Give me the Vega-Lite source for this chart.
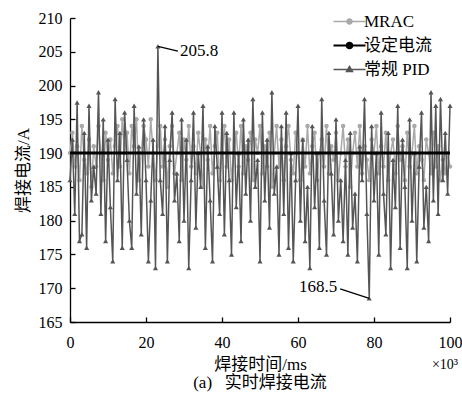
{
  "$schema": "https://vega.github.io/schema/vega-lite/v6.json",
  "width": 380,
  "height": 304,
  "autosize": "none",
  "padding": {"left": 70, "top": 18, "right": 12, "bottom": 86},
  "background": "white",
  "config": {
    "view": {"stroke": null},
    "axis": {
      "grid": false,
      "domainColor": "#000",
      "domainWidth": 1.3,
      "tickColor": "#000",
      "tickWidth": 1.3,
      "tickSize": -5,
      "labelFont": "Liberation Serif, DejaVu Serif, serif",
      "labelFontSize": 16,
      "labelColor": "#000",
      "titleFont": "Liberation Serif, Noto Sans CJK SC, serif",
      "titleFontSize": 17,
      "titleFontWeight": "normal",
      "titleColor": "#000"
    }
  },
  "title": {
    "text": "(a)\u00a0\u00a0\u00a0实时焊接电流",
    "orient": "bottom",
    "font": "Liberation Serif, Noto Sans CJK SC, serif",
    "fontSize": 17,
    "fontWeight": "normal",
    "color": "#000",
    "offset": 3
  },
  "datasets": {
    "current": [
      {"t": 0, "MRAC": 190, "常规 PID": 186},
      {"t": 0.625, "MRAC": 193, "常规 PID": 192},
      {"t": 1.25, "MRAC": 188, "常规 PID": 181},
      {"t": 1.875, "MRAC": 191, "常规 PID": 197.5},
      {"t": 2.5, "MRAC": 186, "常规 PID": 177},
      {"t": 3.125, "MRAC": 194, "常规 PID": 178},
      {"t": 3.75, "MRAC": 189, "常规 PID": 193},
      {"t": 4.375, "MRAC": 187, "常规 PID": 176},
      {"t": 5, "MRAC": 192, "常规 PID": 197},
      {"t": 5.625, "MRAC": 185, "常规 PID": 183},
      {"t": 6.25, "MRAC": 191, "常规 PID": 188},
      {"t": 6.875, "MRAC": 188, "常规 PID": 184},
      {"t": 7.5, "MRAC": 194, "常规 PID": 199},
      {"t": 8.125, "MRAC": 190, "常规 PID": 181},
      {"t": 8.75, "MRAC": 186, "常规 PID": 195},
      {"t": 9.375, "MRAC": 193, "常规 PID": 177},
      {"t": 10, "MRAC": 189, "常规 PID": 192},
      {"t": 10.625, "MRAC": 192, "常规 PID": 182},
      {"t": 11.25, "MRAC": 187, "常规 PID": 174},
      {"t": 11.875, "MRAC": 191, "常规 PID": 198},
      {"t": 12.5, "MRAC": 194, "常规 PID": 186},
      {"t": 13.125, "MRAC": 188, "常规 PID": 193},
      {"t": 13.75, "MRAC": 195, "常规 PID": 176},
      {"t": 14.375, "MRAC": 190, "常规 PID": 196},
      {"t": 15, "MRAC": 193, "常规 PID": 189},
      {"t": 15.625, "MRAC": 187, "常规 PID": 180},
      {"t": 16.25, "MRAC": 194, "常规 PID": 176},
      {"t": 16.875, "MRAC": 191, "常规 PID": 197},
      {"t": 17.5, "MRAC": 195, "常规 PID": 184},
      {"t": 18.125, "MRAC": 186, "常规 PID": 191},
      {"t": 18.75, "MRAC": 190, "常规 PID": 178},
      {"t": 19.375, "MRAC": 194, "常规 PID": 195},
      {"t": 20, "MRAC": 192, "常规 PID": 186},
      {"t": 20.625, "MRAC": 188, "常规 PID": 174},
      {"t": 21.25, "MRAC": 195, "常规 PID": 183},
      {"t": 21.875, "MRAC": 190, "常规 PID": 192},
      {"t": 22.5, "MRAC": 186, "常规 PID": 173},
      {"t": 23.125, "MRAC": 191, "常规 PID": 205.8},
      {"t": 23.75, "MRAC": 194, "常规 PID": 186},
      {"t": 24.375, "MRAC": 188, "常规 PID": 181},
      {"t": 25, "MRAC": 192, "常规 PID": 194},
      {"t": 25.625, "MRAC": 185, "常规 PID": 174},
      {"t": 26.25, "MRAC": 191, "常规 PID": 189},
      {"t": 26.875, "MRAC": 194, "常规 PID": 196},
      {"t": 27.5, "MRAC": 187, "常规 PID": 183},
      {"t": 28.125, "MRAC": 190, "常规 PID": 187},
      {"t": 28.75, "MRAC": 193, "常规 PID": 177},
      {"t": 29.375, "MRAC": 186, "常规 PID": 195},
      {"t": 30, "MRAC": 192, "常规 PID": 180},
      {"t": 30.625, "MRAC": 189, "常规 PID": 192},
      {"t": 31.25, "MRAC": 194, "常规 PID": 173},
      {"t": 31.875, "MRAC": 188, "常规 PID": 186},
      {"t": 32.5, "MRAC": 191, "常规 PID": 196},
      {"t": 33.125, "MRAC": 187, "常规 PID": 179},
      {"t": 33.75, "MRAC": 193, "常规 PID": 190},
      {"t": 34.375, "MRAC": 190, "常规 PID": 185},
      {"t": 35, "MRAC": 185, "常规 PID": 197},
      {"t": 35.625, "MRAC": 192, "常规 PID": 176},
      {"t": 36.25, "MRAC": 189, "常规 PID": 191},
      {"t": 36.875, "MRAC": 194, "常规 PID": 183},
      {"t": 37.5, "MRAC": 187, "常规 PID": 174},
      {"t": 38.125, "MRAC": 191, "常规 PID": 194},
      {"t": 38.75, "MRAC": 193, "常规 PID": 188},
      {"t": 39.375, "MRAC": 186, "常规 PID": 181},
      {"t": 40, "MRAC": 190, "常规 PID": 196},
      {"t": 40.625, "MRAC": 194, "常规 PID": 178},
      {"t": 41.25, "MRAC": 188, "常规 PID": 193},
      {"t": 41.875, "MRAC": 192, "常规 PID": 186},
      {"t": 42.5, "MRAC": 186, "常规 PID": 175},
      {"t": 43.125, "MRAC": 190, "常规 PID": 196},
      {"t": 43.75, "MRAC": 193, "常规 PID": 182},
      {"t": 44.375, "MRAC": 188, "常规 PID": 190},
      {"t": 45, "MRAC": 194, "常规 PID": 177},
      {"t": 45.625, "MRAC": 187, "常规 PID": 195},
      {"t": 46.25, "MRAC": 191, "常规 PID": 184},
      {"t": 46.875, "MRAC": 189, "常规 PID": 192},
      {"t": 47.5, "MRAC": 193, "常规 PID": 180},
      {"t": 48.125, "MRAC": 186, "常规 PID": 198},
      {"t": 48.75, "MRAC": 192, "常规 PID": 185},
      {"t": 49.375, "MRAC": 190, "常规 PID": 189},
      {"t": 50, "MRAC": 194, "常规 PID": 174},
      {"t": 50.625, "MRAC": 187, "常规 PID": 196},
      {"t": 51.25, "MRAC": 191, "常规 PID": 183},
      {"t": 51.875, "MRAC": 188, "常规 PID": 192},
      {"t": 52.5, "MRAC": 193, "常规 PID": 179},
      {"t": 53.125, "MRAC": 185, "常规 PID": 199},
      {"t": 53.75, "MRAC": 190, "常规 PID": 184},
      {"t": 54.375, "MRAC": 194, "常规 PID": 188},
      {"t": 55, "MRAC": 188, "常规 PID": 175},
      {"t": 55.625, "MRAC": 192, "常规 PID": 194},
      {"t": 56.25, "MRAC": 186, "常规 PID": 181},
      {"t": 56.875, "MRAC": 191, "常规 PID": 196},
      {"t": 57.5, "MRAC": 194, "常规 PID": 176},
      {"t": 58.125, "MRAC": 189, "常规 PID": 190},
      {"t": 58.75, "MRAC": 187, "常规 PID": 174},
      {"t": 59.375, "MRAC": 193, "常规 PID": 186},
      {"t": 60, "MRAC": 190, "常规 PID": 197},
      {"t": 60.625, "MRAC": 186, "常规 PID": 180},
      {"t": 61.25, "MRAC": 192, "常规 PID": 192},
      {"t": 61.875, "MRAC": 188, "常规 PID": 177},
      {"t": 62.5, "MRAC": 194, "常规 PID": 185},
      {"t": 63.125, "MRAC": 187, "常规 PID": 173},
      {"t": 63.75, "MRAC": 191, "常规 PID": 194},
      {"t": 64.375, "MRAC": 193, "常规 PID": 182},
      {"t": 65, "MRAC": 186, "常规 PID": 190},
      {"t": 65.625, "MRAC": 190, "常规 PID": 176},
      {"t": 66.25, "MRAC": 192, "常规 PID": 198},
      {"t": 66.875, "MRAC": 188, "常规 PID": 183},
      {"t": 67.5, "MRAC": 194, "常规 PID": 175},
      {"t": 68.125, "MRAC": 187, "常规 PID": 193},
      {"t": 68.75, "MRAC": 191, "常规 PID": 187},
      {"t": 69.375, "MRAC": 189, "常规 PID": 178},
      {"t": 70, "MRAC": 193, "常规 PID": 195},
      {"t": 70.625, "MRAC": 186, "常规 PID": 180},
      {"t": 71.25, "MRAC": 190, "常规 PID": 186},
      {"t": 71.875, "MRAC": 194, "常规 PID": 177},
      {"t": 72.5, "MRAC": 188, "常规 PID": 189},
      {"t": 73.125, "MRAC": 192, "常规 PID": 175},
      {"t": 73.75, "MRAC": 185, "常规 PID": 193},
      {"t": 74.375, "MRAC": 190, "常规 PID": 179},
      {"t": 75, "MRAC": 193, "常规 PID": 184},
      {"t": 75.625, "MRAC": 188, "常规 PID": 174},
      {"t": 76.25, "MRAC": 194, "常规 PID": 191},
      {"t": 76.875, "MRAC": 187, "常规 PID": 186},
      {"t": 77.5, "MRAC": 191, "常规 PID": 198},
      {"t": 78.125, "MRAC": 189, "常规 PID": 181},
      {"t": 78.75, "MRAC": 186, "常规 PID": 168.5},
      {"t": 79.375, "MRAC": 192, "常规 PID": 194},
      {"t": 80, "MRAC": 190, "常规 PID": 183},
      {"t": 80.625, "MRAC": 194, "常规 PID": 190},
      {"t": 81.25, "MRAC": 187, "常规 PID": 175},
      {"t": 81.875, "MRAC": 191, "常规 PID": 196},
      {"t": 82.5, "MRAC": 188, "常规 PID": 184},
      {"t": 83.125, "MRAC": 193, "常规 PID": 178},
      {"t": 83.75, "MRAC": 186, "常规 PID": 193},
      {"t": 84.375, "MRAC": 190, "常规 PID": 173},
      {"t": 85, "MRAC": 192, "常规 PID": 189},
      {"t": 85.625, "MRAC": 187, "常规 PID": 182},
      {"t": 86.25, "MRAC": 194, "常规 PID": 197},
      {"t": 86.875, "MRAC": 189, "常规 PID": 176},
      {"t": 87.5, "MRAC": 191, "常规 PID": 192},
      {"t": 88.125, "MRAC": 186, "常规 PID": 185},
      {"t": 88.75, "MRAC": 193, "常规 PID": 173},
      {"t": 89.375, "MRAC": 188, "常规 PID": 195},
      {"t": 90, "MRAC": 190, "常规 PID": 180},
      {"t": 90.625, "MRAC": 194, "常规 PID": 190},
      {"t": 91.25, "MRAC": 187, "常规 PID": 174},
      {"t": 91.875, "MRAC": 191, "常规 PID": 188},
      {"t": 92.5, "MRAC": 189, "常规 PID": 196},
      {"t": 93.125, "MRAC": 186, "常规 PID": 179},
      {"t": 93.75, "MRAC": 192, "常规 PID": 185},
      {"t": 94.375, "MRAC": 190, "常规 PID": 177},
      {"t": 95, "MRAC": 187, "常规 PID": 199},
      {"t": 95.625, "MRAC": 193, "常规 PID": 183},
      {"t": 96.25, "MRAC": 188, "常规 PID": 197},
      {"t": 96.875, "MRAC": 191, "常规 PID": 181},
      {"t": 97.5, "MRAC": 186, "常规 PID": 198},
      {"t": 98.125, "MRAC": 189, "常规 PID": 186},
      {"t": 98.75, "MRAC": 187, "常规 PID": 193},
      {"t": 99.375, "MRAC": 190, "常规 PID": 184},
      {"t": 100, "MRAC": 188, "常规 PID": 197}
    ],
    "setpoint": [
      {"t": 0, "series": "设定电流", "value": 190},
      {"t": 100, "series": "设定电流", "value": 190}
    ],
    "notes": [
      {"t": 23.125, "value": 205.8, "lt": 28.4, "lv": 205.1, "label": "205.8", "side": "left"},
      {"t": 78.75, "value": 168.5, "lt": 71.1, "lv": 169.9, "label": "168.5", "side": "right"}
    ],
    "unit": [
      {"t": 100, "value": 165, "label": "×10³"}
    ]
  },
  "encoding": {
    "x": {
      "field": "t",
      "type": "quantitative",
      "scale": {"domain": [0, 100], "nice": false},
      "axis": {
        "title": "焊接时间/ms",
        "values": [0, 20, 40, 60, 80, 100],
        "labelPadding": 17,
        "titlePadding": 6,
        "labelFlush": false
      }
    },
    "y": {
      "field": "value",
      "type": "quantitative",
      "scale": {"domain": [165, 210], "nice": false, "zero": false},
      "axis": {
        "title": "焊接电流/A",
        "values": [165, 170, 175, 180, 185, 190, 195, 200, 205, 210],
        "labelPadding": 13,
        "titlePadding": 6
      }
    }
  },
  "layer": [
    {
      "data": {"name": "current"},
      "transform": [
        {"fold": ["MRAC"], "as": ["series", "value"]}
      ],
      "mark": {"type": "line", "strokeWidth": 1.5},
      "encoding": {
        "color": {
          "field": "series",
          "type": "nominal",
          "scale": {
            "domain": ["MRAC", "设定电流", "常规 PID"],
            "range": ["#a9a9a9", "#000000", "#555555"]
          },
          "legend": {
            "title": null,
            "orient": "none",
            "legendX": 271,
            "legendY": -5,
            "symbolSize": 1024,
            "labelFont": "Liberation Serif, Noto Sans CJK SC, serif",
            "labelFontSize": 17,
            "labelColor": "#000",
            "labelOffset": 6,
            "rowPadding": 6,
            "encode": {
              "symbols": {
                "update": {
                  "shape": {"signal": "datum.value === 'MRAC' ? 'M-1,0H1M-0.16,0A0.16,0.16 0 1 0 0.16,0A0.16,0.16 0 1 0 -0.16,0Z' : datum.value === '设定电流' ? 'M-1,0H1M-0.17,0A0.17,0.17 0 1 0 0.17,0A0.17,0.17 0 1 0 -0.17,0Z' : 'M-1,0H1M0,-0.2L0.19,0.13L-0.19,0.13Z'"},
                  "fill": {"signal": "scale('color', datum.value)"},
                  "stroke": {"signal": "scale('color', datum.value)"},
                  "strokeWidth": {"signal": "datum.value === '设定电流' ? 2.2 : 1.4"},
                  "opacity": {"value": 1}
                }
              }
            }
          }
        }
      }
    },
    {
      "data": {"name": "current"},
      "transform": [
        {"fold": ["MRAC"], "as": ["series", "value"]}
      ],
      "mark": {"type": "point", "shape": "circle", "filled": true, "size": 20, "opacity": 1},
      "encoding": {
        "color": {"field": "series", "type": "nominal"}
      }
    },
    {
      "data": {"name": "current"},
      "transform": [
        {"fold": ["常规 PID"], "as": ["series", "value"]}
      ],
      "mark": {"type": "line", "strokeWidth": 1.5},
      "encoding": {
        "color": {"field": "series", "type": "nominal"}
      }
    },
    {
      "data": {"name": "current"},
      "transform": [
        {"fold": ["常规 PID"], "as": ["series", "value"]}
      ],
      "mark": {"type": "point", "shape": "triangle-up", "filled": true, "size": 26, "opacity": 1},
      "encoding": {
        "color": {"field": "series", "type": "nominal"}
      }
    },
    {
      "data": {"name": "setpoint"},
      "mark": {"type": "line", "strokeWidth": 3},
      "encoding": {
        "color": {"field": "series", "type": "nominal"}
      }
    },
    {
      "data": {"name": "notes"},
      "mark": {"type": "rule", "color": "#000", "strokeWidth": 1.2},
      "encoding": {
        "x2": {"field": "lt"},
        "y2": {"field": "lv"}
      }
    },
    {
      "data": {"name": "notes"},
      "transform": [{"filter": "datum.side === 'left'"}],
      "mark": {"type": "text", "font": "Liberation Serif, DejaVu Serif, serif", "fontSize": 17, "color": "#000", "align": "left", "baseline": "middle", "dx": 2},
      "encoding": {
        "x": {"field": "lt", "type": "quantitative"},
        "y": {"field": "lv", "type": "quantitative"},
        "text": {"field": "label"}
      }
    },
    {
      "data": {"name": "notes"},
      "transform": [{"filter": "datum.side === 'right'"}],
      "mark": {"type": "text", "font": "Liberation Serif, DejaVu Serif, serif", "fontSize": 17, "color": "#000", "align": "right", "baseline": "middle", "dx": -3, "dy": -2},
      "encoding": {
        "x": {"field": "lt", "type": "quantitative"},
        "y": {"field": "lv", "type": "quantitative"},
        "text": {"field": "label"}
      }
    },
    {
      "data": {"name": "unit"},
      "mark": {"type": "text", "font": "Liberation Serif, DejaVu Serif, serif", "fontSize": 14, "color": "#000", "align": "right", "baseline": "middle", "dx": 8, "dy": 43},
      "encoding": {
        "text": {"field": "label"}
      }
    }
  ]
}
